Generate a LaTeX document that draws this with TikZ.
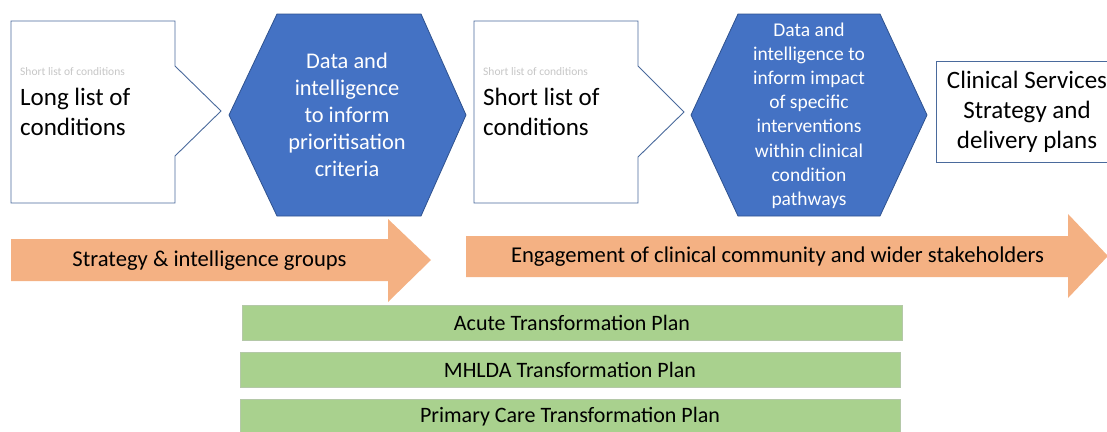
\documentclass[tikz,border=0pt]{standalone}
\usepackage{fontspec}
\setmainfont{Carlito}
\definecolor{hexblue}{HTML}{4472C4}
\definecolor{hexedge}{HTML}{2F528F}
\definecolor{penedge}{HTML}{4A6A9C}
\definecolor{arrowfill}{HTML}{F4B183}
\definecolor{barfill}{HTML}{A9D18E}
\definecolor{baredge}{HTML}{B4C8A8}
\tikzset{
  x=1pt, y=-1pt,
  penta/.style={draw=penedge, line width=0.9pt, fill=white},
  hexa/.style={draw=hexedge, line width=0.8pt, fill=hexblue},
  bigarrow/.style={fill=arrowfill},
  planbar/.style={draw=baredge, line width=0.6pt, fill=barfill},
  bigtxt/.style={inner sep=0pt, font=\fontsize{25}{30}\selectfont, text=black},
  hextxt/.style={inner sep=0pt, align=center, text=white},
  ghost/.style={inner sep=0pt, anchor=west, font=\fontsize{11.5}{13}\selectfont, text=black!22},
  bartxt/.style={inner sep=0pt, font=\fontsize{22}{26}\selectfont, text=black},
  arrtxt/.style={inner sep=0pt, font=\fontsize{22.6}{26}\selectfont, text=black}
}
\begin{document}
\begin{tikzpicture}
\useasboundingbox (0,0) rectangle (1107,431);
\clip (0,0) rectangle (1107,431);
% pentagon 1
\draw[penta] (11,21) -- (175,21) -- (175,66) -- (221,111) -- (175,156) -- (175,203) -- (11,203) -- cycle;
\node[ghost] (g1) at (20,72) {Short list of conditions};
\node[bigtxt, anchor=west, align=left] (long) at (20,112) {Long list of\\conditions};
% hexagon 1
\draw[hexa] (277,14) -- (421,14) -- (466,115) -- (421,216) -- (277,216) -- (229,115) -- cycle;
\node[hextxt, font=\fontsize{22.4}{27}\selectfont] (h1) at (347,115) {Data and\\intelligence\\to inform\\prioritisation\\criteria};
% pentagon 2
\draw[penta] (474,21) -- (638,21) -- (638,66) -- (684,112) -- (638,157) -- (638,203) -- (474,203) -- cycle;
\node[ghost] (g2) at (483,72) {Short list of conditions};
\node[bigtxt, anchor=west, align=left] (short) at (483,112) {Short list of\\conditions};
% hexagon 2
\draw[hexa] (738,14) -- (880,14) -- (927,115) -- (880,216) -- (738,216) -- (691,115) -- cycle;
\node[hextxt, font=\fontsize{19.5}{24.2}\selectfont] (h2) at (809,115.5) {Data and\\intelligence to\\inform impact\\of specific\\interventions\\within clinical\\condition\\pathways};
% clinical services box
\node[draw=penedge, line width=0.9pt, fill=white, minimum width=182pt, minimum height=101pt, inner sep=0pt] (csbox) at (1027,111.5) {};
\node[bigtxt, align=center] (cs) at (csbox.center) {Clinical Services\\Strategy and\\delivery plans};
% arrows
\fill[bigarrow] (11,239) -- (388,239) -- (388,219) -- (431,260) -- (388,302) -- (388,281) -- (11,281) -- cycle;
\node[arrtxt] (a1) at (209.5,261) {Strategy \& intelligence groups};
\fill[bigarrow] (466,236) -- (1068,236) -- (1068,214) -- (1108,256) -- (1068,298) -- (1068,277) -- (466,277) -- cycle;
\node[arrtxt] (a2) at (777.5,257) {Engagement of clinical community and wider stakeholders};
% plan bars
\node[planbar, minimum width=660pt, minimum height=35pt, inner sep=0pt] (b1) at (572,322.5) {};
\node[bartxt] (t1) at (b1.center) {Acute Transformation Plan};
\node[planbar, minimum width=660pt, minimum height=35pt, inner sep=0pt] (b2) at (570,369.5) {};
\node[bartxt] (t2) at (b2.center) {MHLDA Transformation Plan};
\node[planbar, minimum width=660pt, minimum height=35pt, inner sep=0pt] (b3) at (570,416.5) {};
\node[bartxt] (t3) at (b3.center) {Primary Care Transformation Plan};
\end{tikzpicture}
\end{document}
